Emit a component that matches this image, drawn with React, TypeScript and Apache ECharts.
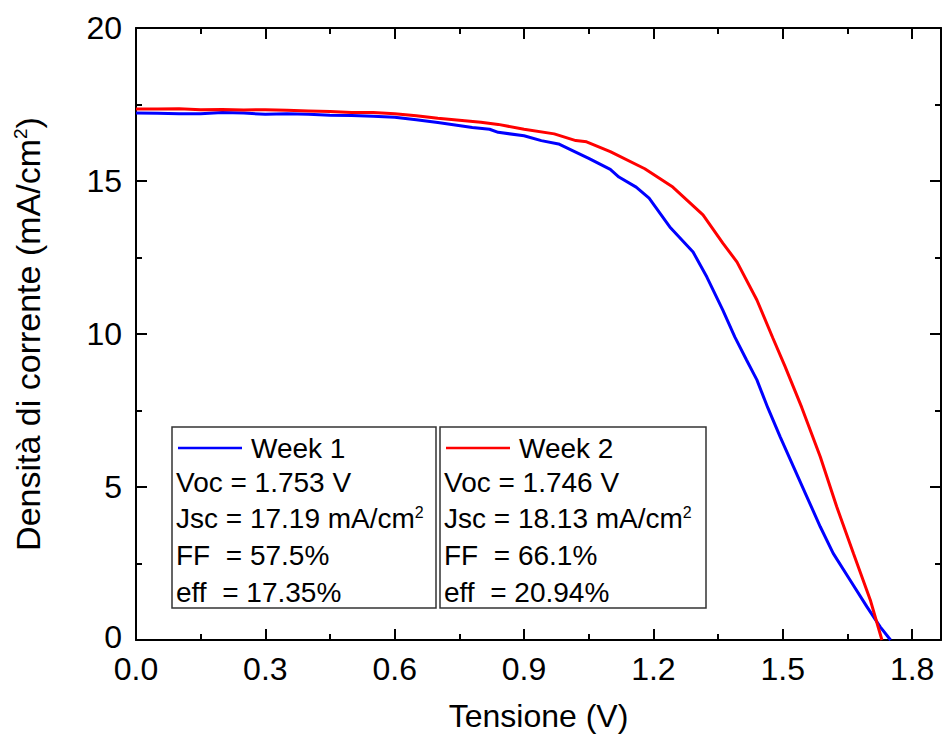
import React, { useEffect, useRef } from "react";
import * as echarts from "echarts";

const week1V = [0, 0.05, 0.1, 0.15, 0.2, 0.25, 0.3, 0.35, 0.4, 0.45, 0.5, 0.55, 0.6, 0.65, 0.7, 0.78, 0.82, 0.84, 0.9, 0.94, 0.98, 1.01, 1.05, 1.1, 1.12, 1.16, 1.19, 1.238, 1.292, 1.324, 1.361, 1.389, 1.416, 1.44, 1.465, 1.494, 1.525, 1.556, 1.587, 1.617, 1.656, 1.695, 1.726, 1.75];
const week1J = [17.22, 17.21, 17.2, 17.2, 17.24, 17.22, 17.18, 17.2, 17.18, 17.15, 17.14, 17.12, 17.08, 17.0, 16.91, 16.75, 16.69, 16.59, 16.48, 16.32, 16.21, 16.01, 15.74, 15.38, 15.13, 14.8, 14.44, 13.5, 12.68, 11.86, 10.78, 9.9, 9.15, 8.5, 7.6, 6.64, 5.66, 4.68, 3.7, 2.83, 1.96, 1.09, 0.43, 0];

const week2V = [0, 0.05, 0.1, 0.15, 0.2, 0.25, 0.3, 0.35, 0.4, 0.45, 0.5, 0.55, 0.6, 0.65, 0.7, 0.8, 0.84, 0.9, 0.97, 1.02, 1.045, 1.1, 1.18, 1.245, 1.315, 1.361, 1.394, 1.44, 1.477, 1.505, 1.544, 1.587, 1.625, 1.664, 1.703, 1.73];
const week2J = [17.35, 17.35, 17.36, 17.33, 17.34, 17.32, 17.33, 17.31, 17.29, 17.27, 17.24, 17.24, 17.2, 17.13, 17.05, 16.92, 16.85, 16.69, 16.54, 16.32, 16.28, 15.96, 15.4, 14.8, 13.89, 12.97, 12.35, 11.11, 9.87, 8.95, 7.6, 5.99, 4.36, 2.83, 1.31, 0];

const seriesNames = ["Week 1", "Week 2"];
const seriesColors = ["#0000ff", "#ff0000"];
const voc = ["1.753", "1.746"];
const jsc = ["17.19", "18.13"];
const ff = ["57.5", "66.1"];
const eff = ["17.35", "20.94"];

const FONT = "'Liberation Sans', Arial, sans-serif";

function legendBox(i: number, left: number, right: number) {
  const top = 427;
  const bottom = 608;
  const tx = left + 4;
  const ts = { fontSize: 28, fontFamily: FONT, fill: "#000" };
  return [
    {
      type: "rect",
      shape: { x: left, y: top, width: right - left, height: bottom - top },
      style: { fill: "#fff", stroke: "#333", lineWidth: 1.5 },
      z: 10,
    },
    {
      type: "line",
      shape: { x1: left + 6, y1: 448, x2: left + 70, y2: 448 },
      style: { stroke: seriesColors[i], lineWidth: 2.5 },
      z: 11,
    },
    { type: "text", x: left + 79, y: 448, style: { ...ts, text: seriesNames[i], verticalAlign: "middle" }, z: 11 },
    { type: "text", x: tx, y: 482, style: { ...ts, text: `Voc = ${voc[i]} V`, verticalAlign: "middle" }, z: 11 },
    {
      type: "text",
      x: tx,
      y: 518,
      style: {
        text: `{n|Jsc = ${jsc[i]} mA/cm}{s|2}`,
        verticalAlign: "middle",
        rich: {
          n: { fontSize: 28, fontFamily: FONT, fill: "#000" },
          s: { fontSize: 16, fontFamily: FONT, fill: "#000", verticalAlign: "top", padding: [0, 0, 12, 0] },
        },
      },
      z: 11,
    },
    { type: "text", x: tx, y: 555, style: { ...ts, text: `FF  = ${ff[i]}%`, verticalAlign: "middle" }, z: 11 },
    { type: "text", x: tx, y: 592, style: { ...ts, text: `eff  = ${eff[i]}%`, verticalAlign: "middle" }, z: 11 },
  ];
}

export default function App() {
  const ref = useRef<HTMLDivElement>(null);
  useEffect(() => {
    document.body.style.margin = "0";
    const chart = echarts.init(ref.current!, null, { renderer: "svg" });
    const axisLine = { show: true, onZero: false, lineStyle: { color: "#000", width: 2 } };
    const axisTick = { show: true, inside: true, length: 11, lineStyle: { color: "#000", width: 2 } };
    const minorTick = { show: true, splitNumber: 2, length: 6, lineStyle: { color: "#000", width: 2 } };
    const xFmt = (v: number) => {
      const r = Math.round(v / 0.3);
      return Math.abs(v - r * 0.3) < 1e-6 ? v.toFixed(1) : "";
    };
    const yFmt = (v: number) => (v === 0 ? "{z|0}" : String(v));
    chart.setOption({
      animation: false,
      backgroundColor: "#fff",
      textStyle: { fontFamily: FONT },
      grid: { left: 136, right: 1, top: 28, bottom: 98 },
      xAxis: [
        {
          type: "value",
          min: 0,
          max: 1.867,
          interval: 0.3,
          position: "bottom",
          axisLine,
          axisTick,
          minorTick,
          splitLine: { show: false },
          axisLabel: { fontSize: 32, lineHeight: 26, color: "#000", fontFamily: FONT, margin: 16, formatter: xFmt, showMaxLabel: false },
          name: "Tensione (V)",
          nameLocation: "middle",
          nameGap: 60,
          nameTextStyle: { fontSize: 32, color: "#000", fontFamily: FONT },
        },
        {
          type: "value",
          min: 0,
          max: 1.867,
          interval: 0.3,
          position: "top",
          axisLine,
          axisTick,
          minorTick,
          splitLine: { show: false },
          axisLabel: { show: false },
        },
      ],
      yAxis: [
        {
          type: "value",
          min: 0,
          max: 20,
          interval: 5,
          position: "left",
          axisLine,
          axisTick,
          minorTick,
          splitLine: { show: false },
          axisLabel: {
            fontSize: 32,
            lineHeight: 24,
            color: "#000",
            fontFamily: FONT,
            margin: 14,
            formatter: yFmt,
            rich: { z: { fontSize: 32, lineHeight: 24, color: "#000", fontFamily: FONT, padding: [0, 0, 6, 0] } },
          },
          name: "{a|Densità di corrente (mA/cm}{s|2}{a|)}",
          nameLocation: "middle",
          nameGap: 91,
          nameRotate: 90,
          nameTextStyle: {
            rich: {
              a: { fontSize: 34, color: "#000", fontFamily: FONT },
              s: { fontSize: 19, color: "#000", fontFamily: FONT, verticalAlign: "top", padding: [0, 0, 14, 0] },
            },
          },
        },
        {
          type: "value",
          min: 0,
          max: 20,
          interval: 5,
          position: "right",
          axisLine,
          axisTick,
          minorTick,
          splitLine: { show: false },
          axisLabel: { show: false },
        },
      ],
      series: [
        {
          name: seriesNames[0],
          type: "line",
          showSymbol: false,
          data: week1V.map((v, k) => [v, week1J[k]]),
          lineStyle: { color: seriesColors[0], width: 3 },
          itemStyle: { color: seriesColors[0] },
        },
        {
          name: seriesNames[1],
          type: "line",
          showSymbol: false,
          data: week2V.map((v, k) => [v, week2J[k]]),
          lineStyle: { color: seriesColors[1], width: 3 },
          itemStyle: { color: seriesColors[1] },
        },
      ],
      graphic: [...legendBox(0, 172, 436), ...legendBox(1, 440, 706)],
    });
    return () => chart.dispose();
  }, []);
  return <div ref={ref} style={{ width: 942, height: 738 }} />;
}
